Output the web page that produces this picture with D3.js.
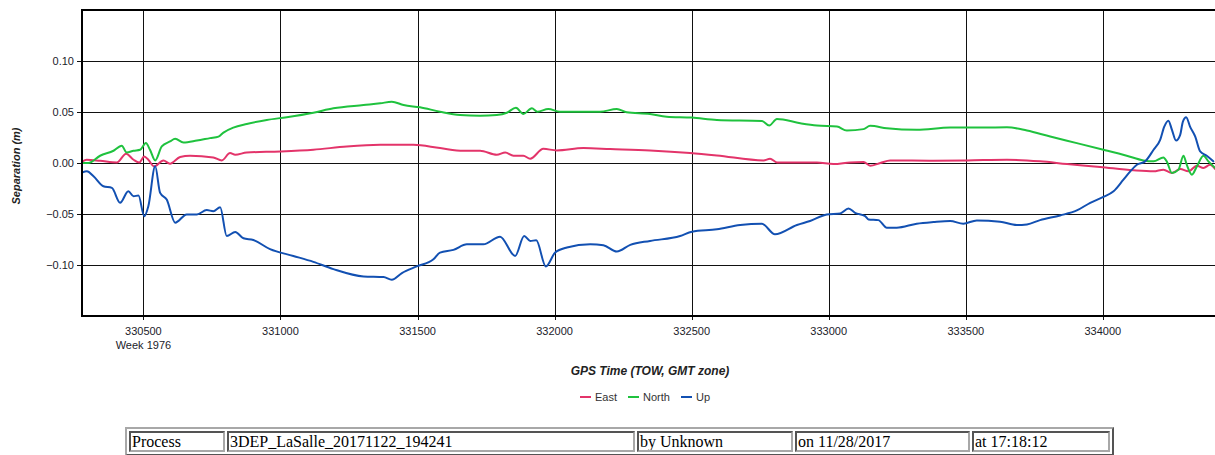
<!DOCTYPE html>
<html>
<head>
<meta charset="utf-8">
<script src="https://cdn.jsdelivr.net/npm/d3@7"></script>
<style>
  html, body { margin: 0; padding: 0; background: #fff; width: 1215px; height: 455px; overflow: hidden; }
  #chart { position: absolute; left: 0; top: 0; }
  #info { position: absolute; left: 125px; top: 427px; }
  #info table { table-layout: fixed; width: 988px; border-collapse: separate; border-spacing: 2px;
    border: 2px outset #a8a8a8; box-sizing: border-box; }
  #info td { border: 2px inset #a8a8a8; padding: 0 1px; box-sizing: border-box;
    font-family: "Liberation Serif", "Times New Roman", serif; font-size: 16px; line-height: 17px;
    color: #000; white-space: nowrap; overflow: hidden; }
</style>
</head>
<body>
<svg id="chart" width="1215" height="420"></svg>
<div id="info"></div>
<script>
// ---- Data ----
const seriesNames = ["East", "North", "Up"];
const seriesColors = ["#e3346a", "#1fc23e", "#1250b2"];

const eastT = [330276,330293,330342,330403,330437,330464,330485,330503,330518,330539,330573,330597,330634,330670,330755,330786,330816,330835,330877,330999,331120,331242,331364,331485,331582,331667,331728,331789,331820,331850,331886,331911,331959,332008,332105,332203,332348,332494,332592,332762,332786,332811,332957,333017,333078,333127,333151,333188,333224,333382,333504,333650,333771,333869,333990,334112,334185,334221,334252,334282,334312,334343,334367,334391,334410];
const eastV = [0.0013,0.0032,0.0022,0.0006,0.0091,0.0032,0.0006,0.0064,0.0032,-0.0033,0.0025,-0.0007,0.0059,0.0071,0.0055,0.0025,0.0098,0.0081,0.0103,0.0113,0.0130,0.0162,0.0178,0.0178,0.0146,0.0120,0.0120,0.0081,0.0103,0.0071,0.0071,0.0042,0.0139,0.0123,0.0146,0.0137,0.0123,0.0098,0.0074,0.0025,0.0042,0.0006,0.0006,-0.0010,0.0006,0.0010,-0.0026,0.0000,0.0025,0.0022,0.0025,0.0032,0.0016,-0.0010,-0.0039,-0.0072,-0.0082,-0.0065,-0.0098,-0.0059,-0.0082,-0.0026,-0.0049,-0.0017,-0.0059];

const northT = [330276,330299,330342,330391,330421,330439,330464,330488,330509,330524,330543,330567,330597,330616,330646,330695,330743,330774,330792,330828,330877,330950,331023,331120,331193,331303,331364,331406,331449,331509,331582,331655,331728,331789,331826,331859,331886,331917,331937,331977,332020,332166,332227,332263,332348,332409,332501,332592,332756,332783,332811,332896,332957,333030,333066,333127,333151,333212,333321,333443,333564,333650,333723,333808,333905,334002,334087,334148,334185,334221,334233,334252,334276,334294,334306,334325,334343,334367,334385,334410];
const northV = [0.0000,0.0000,0.0071,0.0120,0.0169,0.0103,0.0120,0.0130,0.0195,0.0130,0.0025,0.0162,0.0211,0.0237,0.0201,0.0220,0.0244,0.0259,0.0298,0.0347,0.0383,0.0422,0.0449,0.0493,0.0536,0.0568,0.0585,0.0601,0.0568,0.0546,0.0503,0.0471,0.0464,0.0471,0.0493,0.0542,0.0481,0.0536,0.0503,0.0529,0.0503,0.0503,0.0529,0.0497,0.0481,0.0454,0.0445,0.0422,0.0412,0.0367,0.0432,0.0390,0.0367,0.0357,0.0318,0.0332,0.0364,0.0341,0.0325,0.0347,0.0347,0.0351,0.0318,0.0259,0.0195,0.0130,0.0071,0.0025,0.0016,0.0055,0.0016,-0.0098,-0.0065,0.0071,-0.0017,-0.0114,-0.0033,0.0071,0.0016,-0.0049];

const upT = [330276,330294,330318,330354,330385,330415,330445,330464,330482,330503,330518,330543,330561,330585,330616,330658,330695,330731,330755,330780,330804,330835,330865,330901,330962,331047,331120,331193,331303,331376,331406,331443,331497,331558,331582,331631,331680,331740,331801,331856,331889,331911,331933,331968,332002,332045,332130,332178,332227,332276,332348,332458,332501,332592,332677,332756,332804,332884,332932,332993,333042,333072,333096,333133,333145,333181,333212,333248,333321,333382,333443,333491,333540,333625,333686,333723,333771,333844,333905,333954,334002,334039,334075,334100,334124,334154,334185,334209,334224,334239,334252,334267,334282,334292,334304,334318,334337,334355,334379,334403];
const upV = [-0.0095,-0.0082,-0.0131,-0.0228,-0.0244,-0.0390,-0.0277,-0.0326,-0.0319,-0.0521,-0.0423,-0.0033,-0.0293,-0.0358,-0.0585,-0.0504,-0.0504,-0.0462,-0.0472,-0.0433,-0.0716,-0.0677,-0.0738,-0.0755,-0.0845,-0.0911,-0.0969,-0.1040,-0.1112,-0.1118,-0.1145,-0.1079,-0.1014,-0.0943,-0.0878,-0.0852,-0.0797,-0.0797,-0.0722,-0.0911,-0.0716,-0.0764,-0.0758,-0.1014,-0.0878,-0.0829,-0.0797,-0.0806,-0.0868,-0.0803,-0.0764,-0.0716,-0.0673,-0.0650,-0.0608,-0.0595,-0.0699,-0.0608,-0.0569,-0.0504,-0.0494,-0.0446,-0.0488,-0.0521,-0.0553,-0.0560,-0.0634,-0.0634,-0.0595,-0.0579,-0.0569,-0.0595,-0.0563,-0.0575,-0.0608,-0.0602,-0.0560,-0.0514,-0.0465,-0.0390,-0.0332,-0.0277,-0.0163,-0.0082,-0.0017,0.0016,0.0130,0.0227,0.0357,0.0415,0.0325,0.0220,0.0276,0.0406,0.0449,0.0357,0.0259,0.0113,0.0071,0.0016];

const xTicks = [330500, 331000, 331500, 332000, 332500, 333000, 333500, 334000];
const yTicks = [-0.10, -0.05, 0.00, 0.05, 0.10];
const weekLabel = "Week 1976";
const xTitle = "GPS Time (TOW, GMT zone)";
const yTitle = "Separation (m)";
const infoCells = ["Process", "3DEP_LaSalle_20171122_194241", "by Unknown", "on 11/28/2017", "at 17:18:12"];

// ---- Layout ----
const L = 82, R = 1218, T = 10, B = 316;
const x = d3.scaleLinear().domain([330276, 334420]).range([L, R]);
const y = d3.scaleLinear().domain([-0.15, 0.15]).range([B, T]);

const svg = d3.select("#chart");
const font = "'Liberation Sans', Arial, sans-serif";

// grid
const grid = svg.append("g");
grid.selectAll(".vg").data(xTicks).join("line")
  .attr("x1", d => Math.round(x(d)) + 0.5).attr("x2", d => Math.round(x(d)) + 0.5)
  .attr("y1", T).attr("y2", B + 4)
  .attr("stroke", "#111").attr("stroke-width", 1);
grid.selectAll(".hg").data(yTicks).join("line")
  .attr("x1", L - 5).attr("x2", R)
  .attr("y1", d => Math.round(y(d)) + 0.5).attr("y2", d => Math.round(y(d)) + 0.5)
  .attr("stroke", "#111").attr("stroke-width", 1);

// y tick labels
svg.append("g").selectAll("text").data(yTicks).join("text")
  .attr("x", L - 8).attr("y", d => Math.round(y(d)) + 4)
  .attr("text-anchor", "end").attr("font-family", font).attr("font-size", 11).attr("fill", "#1b1b2a")
  .text(d => d3.format(".2f")(d));

// x tick labels
const xl = svg.append("g");
xl.selectAll("text").data(xTicks).join("text")
  .attr("x", d => x(d)).attr("y", 335)
  .attr("text-anchor", "middle").attr("font-family", font).attr("font-size", 11).attr("fill", "#1b1b2a")
  .text(d => d);
xl.append("text").attr("x", x(xTicks[0])).attr("y", 349)
  .attr("text-anchor", "middle").attr("font-family", font).attr("font-size", 11).attr("fill", "#1b1b2a")
  .text(weekLabel);

// series
const clip = svg.append("clipPath").attr("id", "clip").append("rect")
  .attr("x", L).attr("y", T).attr("width", R - L).attr("height", B - T);
const lineGen = d3.line().x(d => x(d[0])).y(d => y(d[1])).curve(d3.curveMonotoneX);
const seriesData = [
  d3.zip(eastT, eastV),
  d3.zip(northT, northV),
  d3.zip(upT, upV)
];
svg.append("g").attr("clip-path", "url(#clip)")
  .selectAll("path").data(seriesData).join("path")
  .attr("d", lineGen).attr("fill", "none")
  .attr("stroke", (d, i) => seriesColors[i]).attr("stroke-width", 2)
  .attr("stroke-linejoin", "round").attr("stroke-linecap", "round");

// frame
svg.append("path")
  .attr("d", `M${R},${T}H${L}V${B}H${R}`)
  .attr("fill", "none").attr("stroke", "#000").attr("stroke-width", 2);

// titles
svg.append("text").attr("x", 650).attr("y", 375).attr("text-anchor", "middle")
  .attr("font-family", font).attr("font-size", 12).attr("font-weight", "bold").attr("font-style", "italic")
  .attr("fill", "#222").text(xTitle);
svg.append("text").attr("transform", "translate(20,166) rotate(-90)").attr("text-anchor", "middle")
  .attr("font-family", font).attr("font-size", 11).attr("font-weight", "bold").attr("font-style", "italic")
  .attr("fill", "#222").text(yTitle);

// legend
const legX = [580, 628, 681];
const leg = svg.append("g").selectAll("g").data(seriesNames).join("g")
  .attr("transform", (d, i) => `translate(${legX[i]},397)`);
leg.append("line").attr("x1", 0).attr("x2", 11).attr("y1", 0).attr("y2", 0)
  .attr("stroke", (d, i) => seriesColors[i]).attr("stroke-width", 2);
leg.append("text").attr("x", 15).attr("y", 4)
  .attr("font-family", font).attr("font-size", 11).attr("fill", "#333").text(d => d);

// info table
const colW = [96, 408, 156, 175, 138];
const tbl = d3.select("#info").append("table");
tbl.append("tr").selectAll("td").data(infoCells).join("td")
  .style("width", (d, i) => colW[i] + "px").text(d => d);
</script>
</body>
</html>
